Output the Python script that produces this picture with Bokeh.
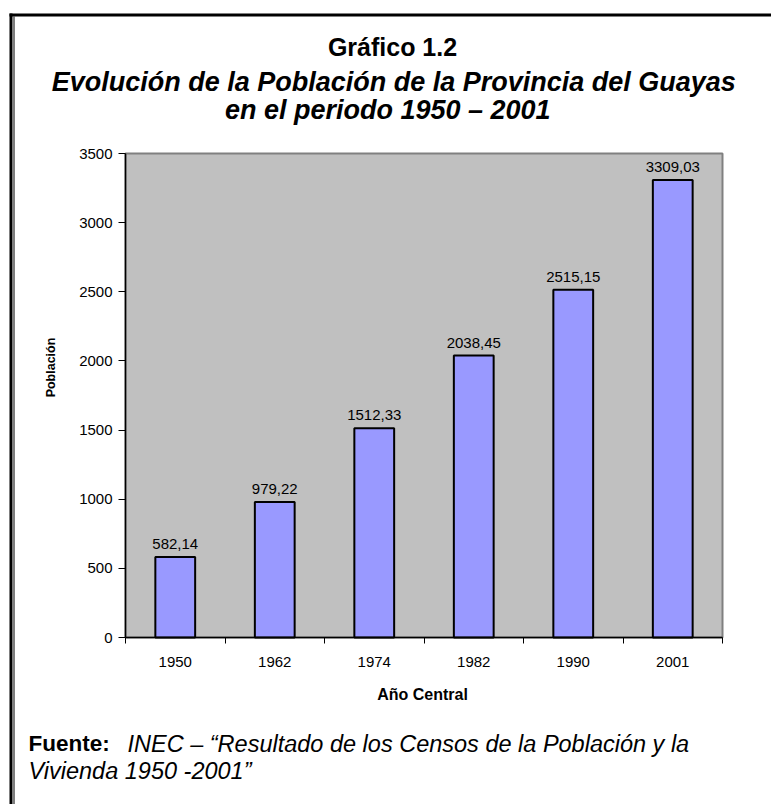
from bokeh.plotting import figure
from bokeh.models import (ColumnDataSource, Range1d, FixedTicker, Label, LabelSet,
                          BoxAnnotation)
from bokeh.core.properties import value
from bokeh.embed import file_html
from bokeh.resources import INLINE

# ---------------- data ----------------
years = ["1950", "1962", "1974", "1982", "1990", "2001"]
poblacion = [582.14, 979.22, 1512.33, 2038.45, 2515.15, 3309.03]
y_ticks = [0, 500, 1000, 1500, 2000, 2500, 3000, 3500]

title_lines = ["Gráfico 1.2",
               "Evolución de la Población de la  Provincia del Guayas",
               "en el periodo  1950 – 2001"]
x_title = "Año Central"
y_title = "Población"
fuente_head = "Fuente:"
fuente_1 = "INEC – “Resultado de los Censos  de la Población y la"
fuente_2 = "Vivienda 1950 -2001”"

# ---------------- layout (canvas pixels) ----------------
FONT = "Liberation Sans"
W, H = 771, 804
AREA_L, AREA_R, AREA_T, AREA_B = 125, 722, 153, 637   # grey plot area

n = len(years)
x_lo, x_hi = -0.5, n - 0.5
y_lo, y_hi = y_ticks[0], y_ticks[-1]
kx = (AREA_R - AREA_L) / (x_hi - x_lo)       # px per category
ky = (AREA_B - AREA_T) / (y_hi - y_lo)       # px per unit
x_range = Range1d(x_lo - AREA_L / kx, x_lo + (W - AREA_L) / kx)
y_range = Range1d(y_lo - (H - AREA_B) / ky, y_hi + AREA_T / ky)

xs = list(range(n))
src = ColumnDataSource(dict(
    x=xs, top=poblacion,
    label=[f"{v:.2f}".replace(".", ",") for v in poblacion]))

p = figure(width=W, height=H, x_range=x_range, y_range=y_range,
           output_backend="svg", toolbar_location=None,
           min_border=0, min_border_left=0, min_border_right=0,
           min_border_top=0, min_border_bottom=0)
p.background_fill_color = "white"
p.border_fill_color = "white"
p.outline_line_color = None
p.grid.visible = False

# grey plot area
p.add_layout(BoxAnnotation(left=x_lo, right=x_hi, bottom=y_lo, top=y_hi,
                           fill_color="#C0C0C0", fill_alpha=1.0,
                           line_color="#808080", line_width=2, line_alpha=1.0,
                           level="underlay"))

p.vbar(x="x", top="top", width=0.4, source=src,
       fill_color="#9999FF", line_color="black", line_width=2)

p.add_layout(LabelSet(x="x", y="top", text="label", source=src, y_offset=8,
                      text_align="center", text_baseline="alphabetic",
                      text_font=value(FONT), text_font_size="15px",
                      text_color="black"))

# x axis: labels at centres, ticks at category boundaries
xa = p.xaxis[0]
xa.fixed_location = y_lo
xa.bounds = (x_lo, x_hi)
xa.ticker = FixedTicker(ticks=xs, minor_ticks=[i - 0.5 for i in range(n + 1)])
xa.major_label_overrides = {i: y for i, y in enumerate(years)}
xa.major_tick_out = 0
xa.major_tick_in = 0
xa.minor_tick_out = 6
xa.minor_tick_in = 0
xa.minor_tick_line_color = "black"
xa.axis_line_color = "black"
xa.axis_line_width = 1.5
xa.major_label_standoff = 13
xa.major_label_text_font = FONT
xa.major_label_text_font_size = "15px"
xa.major_label_text_color = "black"

ya = p.yaxis[0]
ya.fixed_location = x_lo
ya.bounds = (y_lo, y_hi)
ya.ticker = FixedTicker(ticks=y_ticks, minor_ticks=[])
ya.major_tick_out = 7
ya.major_tick_in = 0
ya.major_tick_line_color = "black"
ya.axis_line_color = "black"
ya.axis_line_width = 1.5
ya.major_label_standoff = 6
ya.major_label_text_font = FONT
ya.major_label_text_font_size = "15px"
ya.major_label_text_color = "black"


def lab(text, px, py, size, style="normal", align="left", angle=0, baseline="alphabetic"):
    p.add_layout(Label(x=px, y=py, x_units="canvas", y_units="canvas",
                       text=text, text_font=FONT, text_font_size=size,
                       text_font_style=style, text_align=align,
                       text_baseline=baseline, angle=angle, text_color="black"))


lab(title_lines[0], 392, 46, "25px", "bold", "center")
lab(title_lines[1], 397, 81, "27px", "bold italic", "center")
lab(title_lines[2], 391, 109, "27px", "bold italic", "center")
lab(x_title, 422, 694, "16px", "bold", "center")
lab(y_title, 50, 367, "12.5px", "bold", "center", angle=1.5707963, baseline="middle")
lab(fuente_head, 28, 743, "22.5px", "bold")
lab(fuente_1, 127, 743, "23.5px", "italic")
lab(fuente_2, 28, 770, "23.5px", "italic")


def box(l, r, t, b):
    p.add_layout(BoxAnnotation(left=l, right=r, top=t, bottom=b,
                               left_units="canvas", right_units="canvas",
                               top_units="canvas", bottom_units="canvas",
                               fill_color="black", fill_alpha=1.0, line_alpha=0,
                               level="overlay"))


box(9, 772, 13, 16)
box(9, 12, 13, 805)
box(13, 14, 16, 805)

open("out.html", "w").write(file_html(p, INLINE))
